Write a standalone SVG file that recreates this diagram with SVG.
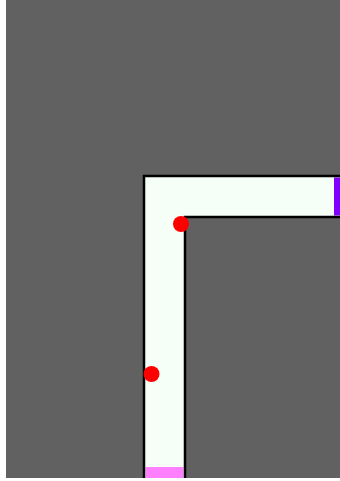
<svg xmlns="http://www.w3.org/2000/svg" width="340" height="481" viewBox="0 0 340 481">
<style>
.wall{fill:none;stroke:#000;stroke-width:2.5}
.dot{fill:#ff0000}
</style>
<rect x="0" y="0" width="340" height="481" fill="#ffffff"/>
<rect x="6" y="0" width="334" height="478" fill="#616161"/>
<g id="corridor">
<path d="M144,478 V176 H340 V217 H185 V478 Z" fill="#f5fff8"/>
<rect x="334" y="177.5" width="6" height="38" fill="#8000ff"/>
<rect x="145.5" y="467" width="38" height="11" fill="#ff80ff"/>
<path class="wall" d="M144,478 V176 H340"/>
<path class="wall" d="M185,478 V217 H340"/>
</g>
<g id="points">
<circle class="dot" cx="181" cy="224" r="8"/>
<circle class="dot" cx="151.5" cy="374" r="8"/>
</g>
</svg>
